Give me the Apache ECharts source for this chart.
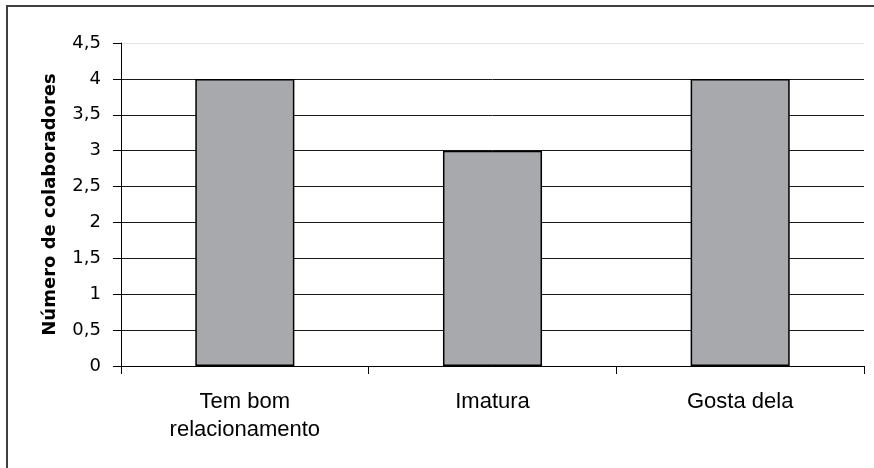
<!DOCTYPE html>
<html>
<head>
<meta charset="utf-8">
<script src="https://cdn.jsdelivr.net/npm/echarts@6/dist/echarts.min.js"></script>
<style>
  html, body { margin: 0; padding: 0; background: #ffffff; }
  #wrap { position: relative; width: 874px; height: 468px; overflow: hidden; }
  #frame {
    position: absolute; left: 6px; top: 5px; right: -10px; bottom: -10px;
    border-top: 2px solid #3f3f3f; border-left: 2px solid #3f3f3f;
  }
  #chart { position: absolute; left: 0; top: 0; width: 874px; height: 468px; }
</style>
</head>
<body>
<div id="wrap">
  <div id="frame"></div>
  <div id="chart"></div>
</div>
<script>
// Categories and counts
const categories = ['Tem bom\nrelacionamento', 'Imatura', 'Gosta dela'];
const colaboradores = [4, 3, 4];

// Value axis range and step
const yMin = 0;
const yMax = 4.5;
const yStep = 0.5;

// Gridlines: dark for each step, the topmost one light
const gridColors = [];
for (let v = yMin; v <= yMax + 1e-9; v += yStep) {
  gridColors.push(Math.abs(v - yMax) < 1e-9 ? '#e2e2e2' : '#1a1a1a');
}

const chart = echarts.init(document.getElementById('chart'), null, { renderer: 'canvas' });

chart.setOption({
  backgroundColor: 'transparent',
  animation: false,
  grid: { left: 121, right: 10, top: 43, bottom: 102, containLabel: false },
  xAxis: {
    type: 'category',
    data: categories,
    axisLine: { show: true, lineStyle: { color: '#000000', width: 1 } },
    axisTick: { show: true, alignWithLabel: false, length: 8, lineStyle: { color: '#000000' } },
    axisLabel: {
      margin: 22,
      color: '#000000',
      fontFamily: 'Liberation Sans, Arial, sans-serif',
      fontSize: 22,
      lineHeight: 28,
      align: 'center'
    },
    splitLine: { show: false }
  },
  yAxis: {
    type: 'value',
    min: yMin,
    max: yMax,
    interval: yStep,
    name: 'Número de colaboradores',
    nameLocation: 'middle',
    nameGap: 62,
    nameRotate: 90,
    nameTextStyle: {
      color: '#000000',
      fontFamily: 'DejaVu Sans, sans-serif',
      fontWeight: 'bold',
      fontSize: 18
    },
    axisLine: { show: true, lineStyle: { color: '#000000', width: 1 } },
    axisTick: { show: true, length: 8, lineStyle: { color: '#000000' } },
    axisLabel: {
      margin: 20,
      color: '#000000',
      fontFamily: 'DejaVu Sans, sans-serif',
      fontSize: 18,
      formatter: function (v) { return String(v).replace('.', ','); }
    },
    splitLine: { show: true, lineStyle: { color: gridColors, width: 1 } }
  },
  series: [{
    type: 'bar',
    data: colaboradores,
    barWidth: '40%',
    itemStyle: { color: '#a8a9ac', borderColor: '#000000', borderWidth: 1.5 },
    emphasis: { disabled: true }
  }]
});
</script>
</body>
</html>
